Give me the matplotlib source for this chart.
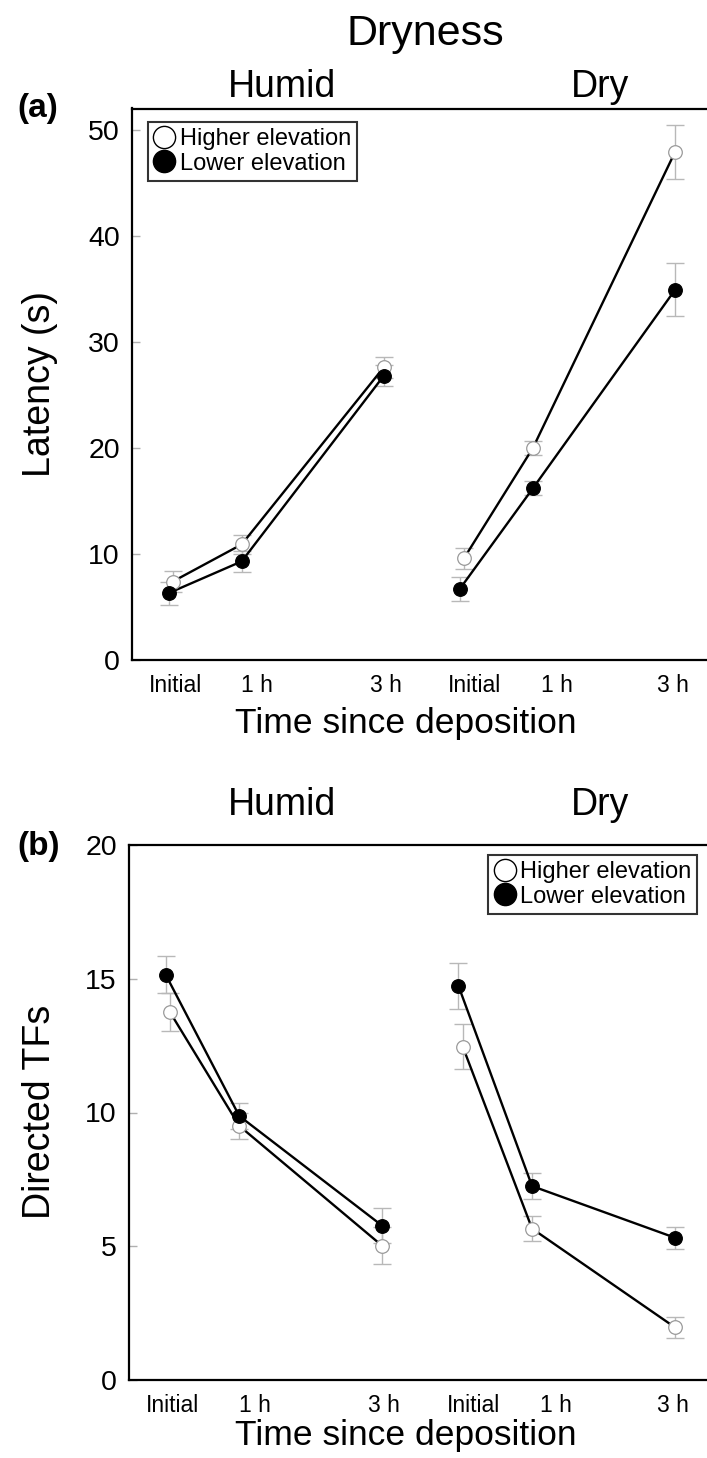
import matplotlib
matplotlib.use('Agg')
import matplotlib.pyplot as plt
from matplotlib.lines import Line2D

plt.rcParams['font.family'] = ['Liberation Sans', 'DejaVu Sans']

# ---------------- data ----------------
time_labels = ['Initial', '1 h', '3 h']
dryness_groups = ['Humid', 'Dry']
series_names = ['Higher elevation', 'Lower elevation']

# Panel (a): Latency (s)
lat_high_humid = [7.4, 10.9, 27.6]
lat_high_humid_err = [1.0, 0.9, 1.0]
lat_low_humid = [6.3, 9.3, 26.8]
lat_low_humid_err = [1.1, 1.0, 1.0]
lat_high_dry = [9.6, 20.0, 47.9]
lat_high_dry_err = [1.0, 0.65, 2.55]
lat_low_dry = [6.7, 16.2, 34.9]
lat_low_dry_err = [1.1, 0.65, 2.5]

# Panel (b): Directed TFs
tf_high_humid = [13.75, 9.5, 5.02]
tf_high_humid_err = [0.7, 0.5, 0.7]
tf_low_humid = [15.15, 9.87, 5.77]
tf_low_humid_err = [0.7, 0.5, 0.66]
tf_high_dry = [12.46, 5.66, 1.97]
tf_high_dry_err = [0.85, 0.47, 0.4]
tf_low_dry = [14.73, 7.25, 5.32]
tf_low_dry_err = [0.85, 0.47, 0.41]

# ---------------- layout ----------------
W, H = 707, 1458
time_hours = [0, 1, 3]
group_offset = {'Humid': 0.0, 'Dry': 4.1}
dodge_high = [0.03, 0, 0]
dodge_low = [-0.03, 0, 0]
ticklabel_pos = [0.07, 1.22, 3.03, 4.28, 5.44, 7.07]
XLIM = (-0.54, 7.55)

def fx(px):
    return px / W

def fy(py):
    return 1 - py / H

fig = plt.figure(figsize=(W / 100, H / 100), dpi=100)
fig.patch.set_facecolor('white')

ERR_COL = '#b8b8b8'
OPEN_EDGE = '#9a9a9a'


def draw_panel(ax, data, ylim, yticks):
    for grp in dryness_groups:
        (hv, he), (lv, le) = data[grp]
        xs_h = [t + group_offset[grp] + d for t, d in zip(time_hours, dodge_high)]
        xs_l = [t + group_offset[grp] + d for t, d in zip(time_hours, dodge_low)]
        for xs, v, e, face, edge in ((xs_h, hv, he, 'white', OPEN_EDGE),
                                     (xs_l, lv, le, 'black', 'black')):
            ax.errorbar(xs, v, yerr=e, fmt='none', ecolor=ERR_COL, elinewidth=1.0,
                        capsize=6.5, capthick=1.0, zorder=2)
            ax.plot(xs, v, color='black', lw=1.7, zorder=3, solid_capstyle='butt')
            ax.plot(xs, v, linestyle='none', marker='o', markersize=9.8,
                    markerfacecolor=face, markeredgecolor=edge,
                    markeredgewidth=0.9, zorder=4)
    ax.set_xlim(*XLIM)
    ax.set_ylim(*ylim)
    ax.set_yticks(yticks)
    ax.set_yticklabels([str(t) for t in yticks])
    ax.set_xticks(ticklabel_pos)
    ax.set_xticklabels(time_labels * 2)
    ax.tick_params(axis='y', direction='in', length=6, width=1, color='#b0b0b0',
                   labelsize=20.5, pad=9)
    ax.tick_params(axis='x', length=0, labelsize=16.5, pad=10)
    for s in ('left', 'bottom', 'top'):
        ax.spines[s].set_linewidth(1.6)
        ax.spines[s].set_color('black')
    ax.spines['right'].set_visible(False)


def add_legend(ax, **kw):
    handles = [Line2D([], [], linestyle='none', marker='o', markersize=16,
                      markerfacecolor='white', markeredgecolor='black', markeredgewidth=1.0),
               Line2D([], [], linestyle='none', marker='o', markersize=16,
                      markerfacecolor='black', markeredgecolor='black')]
    leg = ax.legend(handles, series_names, prop={'size': 17}, frameon=True,
                    fancybox=False, shadow=False, borderpad=0.25, labelspacing=0.12,
                    handlelength=0.9, handletextpad=0.2, borderaxespad=0.0, **kw)
    leg.get_frame().set_edgecolor('black')
    leg.get_frame().set_linewidth(1.5)
    leg.set_zorder(10)
    return leg


# ---- panel (a) ----
ax_a = fig.add_axes([fx(132.3), fy(660), fx(W) - fx(132.3), fy(108.5) - fy(660)])
draw_panel(ax_a,
           {'Humid': ((lat_high_humid, lat_high_humid_err), (lat_low_humid, lat_low_humid_err)),
            'Dry': ((lat_high_dry, lat_high_dry_err), (lat_low_dry, lat_low_dry_err))},
           (0, 52), [0, 10, 20, 30, 40, 50])
add_legend(ax_a, loc='upper left',
           bbox_to_anchor=((147.7 - 132.3) / (W - 132.3), 1 - (122 - 108.5) / (660 - 108.5)))

# ---- panel (b) ----
ax_b = fig.add_axes([fx(129.3), fy(1380), fx(W) - fx(129.3), fy(845) - fy(1380)])
draw_panel(ax_b,
           {'Humid': ((tf_high_humid, tf_high_humid_err), (tf_low_humid, tf_low_humid_err)),
            'Dry': ((tf_high_dry, tf_high_dry_err), (tf_low_dry, tf_low_dry_err))},
           (0, 20), [0, 5, 10, 15, 20])
add_legend(ax_b, loc='upper right',
           bbox_to_anchor=(1 - 10 / (W - 129.3), 1 - 10 / (1380 - 845)))

# ---- texts ----
fig.text(fx(425), fy(45), 'Dryness', fontsize=31, ha='center', va='baseline')
fig.text(fx(282), fy(97), dryness_groups[0], fontsize=27, ha='center', va='baseline')
fig.text(fx(600), fy(97), dryness_groups[1], fontsize=27, ha='center', va='baseline')
fig.text(fx(282), fy(815), dryness_groups[0], fontsize=27, ha='center', va='baseline')
fig.text(fx(600), fy(815), dryness_groups[1], fontsize=27, ha='center', va='baseline')
fig.text(fx(17), fy(108), '(a)', fontsize=24, fontweight='bold', ha='left', va='center')
fig.text(fx(17), fy(846), '(b)', fontsize=24, fontweight='bold', ha='left', va='center')
fig.text(fx(40), fy(384), 'Latency (s)', fontsize=27, rotation=90, ha='center', va='center')
fig.text(fx(40), fy(1112), 'Directed TFs', fontsize=27, rotation=90, ha='center', va='center')
fig.text(fx(406), fy(733), 'Time since deposition', fontsize=25.5, ha='center', va='baseline')
fig.text(fx(406), fy(1445), 'Time since deposition', fontsize=25.5, ha='center', va='baseline')

fig.savefig('out.png', dpi=100, facecolor='white')
